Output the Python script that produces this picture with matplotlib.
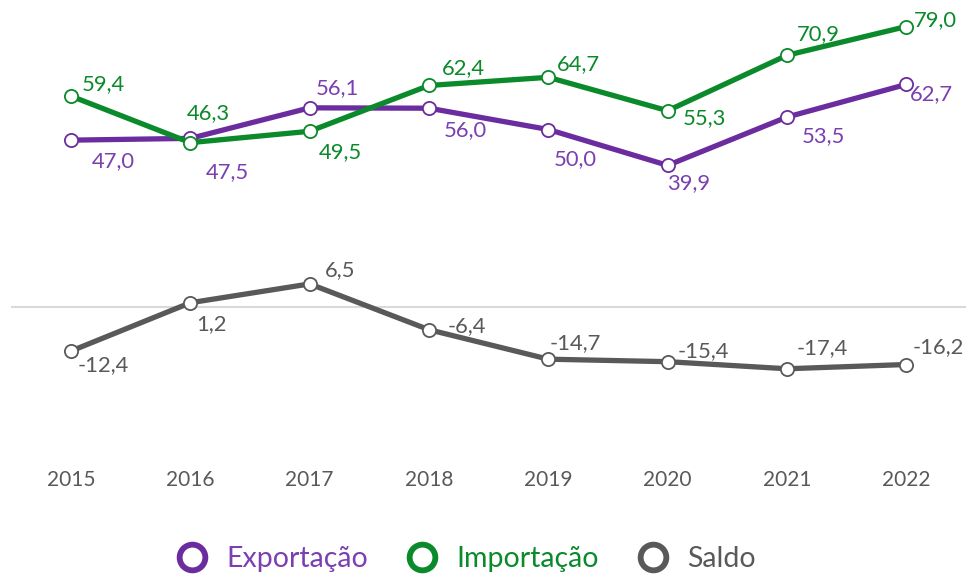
import matplotlib
matplotlib.use("Agg")
import matplotlib.pyplot as plt
from matplotlib.lines import Line2D

plt.rcParams['font.family'] = ['Lato', 'DejaVu Sans']

years = ["2015", "2016", "2017", "2018", "2019", "2020", "2021", "2022"]
exportacao = [47.0, 47.5, 56.1, 56.0, 50.0, 39.9, 53.5, 62.7]
importacao = [59.4, 46.3, 49.5, 62.4, 64.7, 55.3, 70.9, 79.0]
saldo = [-12.4, 1.2, 6.5, -6.4, -14.7, -15.4, -17.4, -16.2]

# label offsets in pixels (dx, dy upward)
off_exp = [(42, -21), (37, -34), (28, 20), (36, -22), (27, -30), (21, -18), (36, -19), (25, -10)]
off_imp = [(32, 12), (18, 30), (31, -21), (34, 17), (30, 13), (37, -7), (31, 21), (29, 6)]
off_sal = [(32, -14), (21, -21), (30, 14), (38, 4), (27, 16), (36, 11), (35, 21), (32, 17)]

C_EXP = "#6B2C9F"
C_EXP_T = "#7A3FB0"
C_IMP = "#0A8A2A"
C_SAL = "#595959"

W, H = 967, 575
fig = plt.figure(figsize=(W / 100, H / 100), dpi=100)
ax_left, ax_right, ax_top, ax_bot = 11.4, 965.9, 1.7, 449.0
ax = fig.add_axes([ax_left / W, 1 - ax_bot / H, (ax_right - ax_left) / W, (ax_bot - ax_top) / H])
ax.set_xlim(-0.5, 7.5)
ax.set_ylim(-40, 86)
for s in ax.spines.values():
    s.set_visible(False)
ax.axhline(0, color="#D9D9D9", lw=1.5, zorder=1)

x = list(range(len(years)))
series = [
    (exportacao, C_EXP, C_EXP_T, off_exp, "Exportação"),
    (importacao, C_IMP, C_IMP, off_imp, "Importação"),
    (saldo, C_SAL, C_SAL, off_sal, "Saldo"),
]
for vals, c, ct, offs, name in series:
    ax.plot(x, vals, color=c, lw=3.8, marker="o", markersize=9.5,
            markerfacecolor="white", markeredgecolor=c, markeredgewidth=1.3,
            zorder=3, solid_capstyle="round")
    for xi, v, (dx, dy) in zip(x, vals, offs):
        ax.annotate(f"{v:.1f}".replace(".", ","), (xi, v), xytext=(dx, dy),
                    textcoords="offset pixels", ha="center", va="center",
                    color=ct, fontsize=15.8, zorder=4)

ax.set_xticks(x)
ax.set_xticklabels(years, fontsize=15, color="#595959")
ax.tick_params(axis="x", length=0, pad=15)
ax.set_yticks([])

handles = [Line2D([], [], linestyle="none", marker="o", markersize=18.5,
                  markerfacecolor="white", markeredgecolor=c, markeredgewidth=4.2)
           for _, c, _, _, _ in series]
labels = [s[4] for s in series]
leg = fig.legend(handles, labels, loc="center", bbox_to_anchor=(465 / W, 1 - 559 / H),
                 ncol=3, frameon=False, fontsize=20.5, handletextpad=0.6,
                 columnspacing=1.3, handlelength=1.2, borderaxespad=0, borderpad=0)
for t, s in zip(leg.get_texts(), series):
    t.set_color(s[2])

fig.savefig("out.png", dpi=100)
